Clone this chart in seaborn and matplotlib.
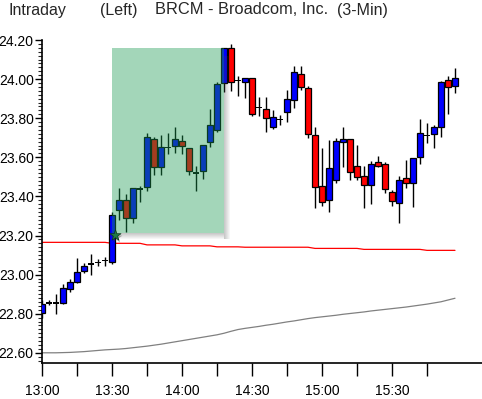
import numpy as np
import pandas as pd
import matplotlib
matplotlib.use("Agg")
import matplotlib.pyplot as plt
import matplotlib.patches as mpatches
from matplotlib import font_manager
from matplotlib.ticker import MultipleLocator, FixedLocator
import seaborn as sns

# 3-minute bars, 13:00 .. 15:57 (minutes after 13:00)
minutes = [3 * i for i in range(60)]
opens = [22.805, 22.855, 22.855, 22.853, 22.925, 22.964, 23.017, 23.053, 23.063, 23.073,
         23.066, 23.329, 23.380, 23.288, 23.438, 23.447, 23.692, 23.549, 23.651, 23.658,
         23.682, 23.646, 23.521, 23.528, 23.677, 23.738, 23.979, 24.158, 23.992, 23.987,
         24.004, 23.854, 23.846, 23.757, 23.794, 23.830, 23.892, 24.025, 23.953, 23.713,
         23.453, 23.383, 23.484, 23.677, 23.692, 23.555, 23.504, 23.457, 23.574, 23.564,
         23.421, 23.368, 23.493, 23.467, 23.600, 23.711, 23.719, 23.757, 23.994, 23.966]
highs = [22.870, 22.870, 22.900, 22.950, 22.976, 23.083, 23.061, 23.105, 23.080, 23.090,
         23.322, 23.441, 23.412, 23.441, 23.453, 23.723, 23.702, 23.713, 23.723, 23.753,
         23.713, 23.646, 23.555, 23.661, 23.845, 23.984, 24.158, 24.180, 24.016, 24.004,
         24.004, 23.910, 23.910, 23.842, 23.816, 23.944, 24.067, 24.067, 23.965, 23.753,
         23.646, 23.688, 23.700, 23.756, 23.692, 23.663, 23.555, 23.583, 23.607, 23.578,
         23.433, 23.504, 23.586, 23.595, 23.794, 23.774, 23.765, 23.992, 24.016, 24.055]
lows = [22.780, 22.843, 22.800, 22.850, 22.910, 22.955, 23.007, 22.998, 23.045, 23.045,
        23.053, 23.279, 23.219, 23.262, 23.373, 23.429, 23.511, 23.511, 23.615, 23.620,
        23.615, 23.511, 23.429, 23.491, 23.651, 23.731, 23.932, 23.940, 23.915, 23.905,
        23.811, 23.811, 23.731, 23.743, 23.765, 23.782, 23.854, 23.944, 23.700, 23.342,
        23.351, 23.322, 23.470, 23.552, 23.484, 23.484, 23.342, 23.361, 23.552, 23.416,
        23.352, 23.262, 23.441, 23.344, 23.564, 23.672, 23.646, 23.702, 23.822, 23.930]
closes = [22.850, 22.855, 22.855, 22.930, 22.961, 23.012, 23.044, 23.053, 23.063, 23.073,
          23.305, 23.380, 23.288, 23.441, 23.438, 23.702, 23.549, 23.651, 23.651, 23.692,
          23.656, 23.528, 23.521, 23.661, 23.764, 23.973, 24.158, 23.987, 23.992, 24.004,
          23.820, 23.854, 23.800, 23.805, 23.794, 23.897, 24.035, 23.958, 23.718, 23.447,
          23.370, 23.545, 23.683, 23.692, 23.526, 23.498, 23.457, 23.566, 23.557, 23.436,
          23.378, 23.482, 23.467, 23.595, 23.723, 23.711, 23.753, 23.984, 23.958, 24.004]

# reference line (red) and long average (gray)
red_line = [23.165] * 10 + [23.160] * 5 + [23.152] * 5 + [23.147] * 5 + [23.142] * 4 \
    + [23.140] * 10 + [23.134] * 7 + [23.129] * 9 + [23.124] * 5
gray_line = [22.600, 22.600, 22.600, 22.601, 22.602, 22.604, 22.606, 22.609, 22.612, 22.615,
             22.617, 22.619, 22.622, 22.626, 22.630, 22.634, 22.639, 22.644, 22.650, 22.656,
             22.662, 22.668, 22.674, 22.680, 22.686, 22.692, 22.700, 22.710, 22.719, 22.725,
             22.730, 22.735, 22.741, 22.746, 22.752, 22.758, 22.763, 22.769, 22.775, 22.780,
             22.784, 22.788, 22.792, 22.797, 22.801, 22.805, 22.809, 22.814, 22.818, 22.822,
             22.826, 22.830, 22.834, 22.839, 22.844, 22.849, 22.855, 22.861, 22.870, 22.879]

ytick_vals = [22.60, 22.80, 23.00, 23.20, 23.40, 23.60, 23.80, 24.00, 24.20]
xtick_vals = [0, 15, 30, 45, 60, 75, 90, 105, 120, 135, 150, 165]
xtick_labels = ["13:00", "", "13:30", "", "14:00", "", "14:30", "", "15:00", "", "15:30", ""]

# highlighted zone and marker
zone_x = [30.1, 77.8]
zone_y = [23.214, 24.161]
mark_x, mark_y = 31.3, 23.203

sns.set_style("white")
plt.rcParams['font.family'] = ['Liberation Sans', 'DejaVu Sans']

# narrow face for the tick numbers if it is there
names = {f.name for f in font_manager.fontManager.ttflist}
if "Liberation Sans Narrow" in names:
    tick_font = {"family": "Liberation Sans Narrow", "size": 12}
else:
    tick_font = {"family": "Liberation Sans", "size": 10}

W, H = 482, 399
fig = plt.figure(figsize=(W / 100, H / 100), dpi=100)
ax = fig.add_axes([42 / W, 36 / H, 440 / W, 323 / H])
x_lim = (0, 440 / (70 / 30))
y_lim = (24.20 - 323 / 195.5, 24.20)
ax.set_xlim(*x_lim)
ax.set_ylim(*y_lim)
px_x = (x_lim[1] - x_lim[0]) / 440
px_y = (y_lim[1] - y_lim[0]) / 323

df = pd.DataFrame({"t": minutes, "red": red_line, "gray": gray_line})
sns.lineplot(data=df, x="t", y="gray", color="#808080", lw=0.9, ax=ax, zorder=2)
sns.lineplot(data=df, x="t", y="red", color="#ff0000", lw=0.9, ax=ax, zorder=2)

# candles
bw = 2.2
for t, o, h, l, c in zip(minutes, opens, highs, lows, closes):
    ax.vlines(t, l, h, color="black", lw=1.0, zorder=3)
    if abs(c - o) < 0.004:
        ax.bar(t, 0.008, bottom=o - 0.004, width=bw, color="black", lw=0, zorder=4)
    else:
        col = "#0000ff" if c > o else "#ff0000"
        ax.bar(t, abs(c - o), bottom=min(o, c), width=bw, color=col,
               edgecolor="black", lw=0.9, zorder=4)

# shadow of the zone
for k in range(6):
    a = 0.28 * (1 - k / 6)
    ax.add_patch(mpatches.Rectangle((zone_x[1] + k * px_x, zone_y[0] - 6 * px_y),
                                    px_x, zone_y[1] - zone_y[0] - 2 * px_y,
                                    color="#404040", alpha=a, lw=0, zorder=5))
    ax.add_patch(mpatches.Rectangle((zone_x[0] + 4 * px_x, zone_y[0] - (k + 1) * px_y),
                                    zone_x[1] - zone_x[0] - 4 * px_x, px_y,
                                    color="#404040", alpha=a, lw=0, zorder=5))
ax.add_patch(mpatches.Rectangle((zone_x[0], zone_y[0]), zone_x[1] - zone_x[0],
                                zone_y[1] - zone_y[0], color="#1a9a52", alpha=0.4,
                                lw=0, zorder=6))

ax.scatter([mark_x + 0.6], [mark_y - 0.01], marker="*", s=80, color="#303030",
           alpha=0.35, lw=0, zorder=7)
ax.scatter([mark_x], [mark_y], marker="*", s=70, color="#1f7a45",
           edgecolor="#0a3a1a", lw=0.5, zorder=8)

# axes styling
for side in ["top", "right"]:
    ax.spines[side].set_visible(False)
for side in ["left", "bottom"]:
    ax.spines[side].set_color("black")
    ax.spines[side].set_linewidth(1.2)

ax.yaxis.set_major_locator(FixedLocator(ytick_vals))
ax.set_yticklabels([f"{v:.2f}" for v in ytick_vals], fontdict=tick_font)
ax.yaxis.set_minor_locator(MultipleLocator(0.02))
ax.xaxis.set_major_locator(FixedLocator(xtick_vals))
ax.set_xticklabels(xtick_labels, fontdict=tick_font)
ax.tick_params(axis="y", which="major", direction="out", length=5, width=1,
               pad=1, colors="black", left=True)
ax.tick_params(axis="y", which="minor", direction="out", length=3, width=0.8,
               left=True)
ax.tick_params(axis="x", which="major", direction="out", length=9, width=1,
               pad=6, colors="black", bottom=True)
ax.set_xlabel("")
ax.set_ylabel("")
ax.grid(False)

# header
fig.text(9 / W, 1 - 10 / H, "Intraday", fontsize=11.5, va="center", ha="left")
fig.text(100 / W, 1 - 10 / H, "(Left)", fontsize=11.5, va="center", ha="left")
fig.text(155 / W, 1 - 10 / H, "BRCM - Broadcom, Inc.", fontsize=11.8, va="center", ha="left")
fig.text(337 / W, 1 - 10 / H, "(3-Min)", fontsize=11.5, va="center", ha="left")

fig.savefig("out.png", dpi=100)
